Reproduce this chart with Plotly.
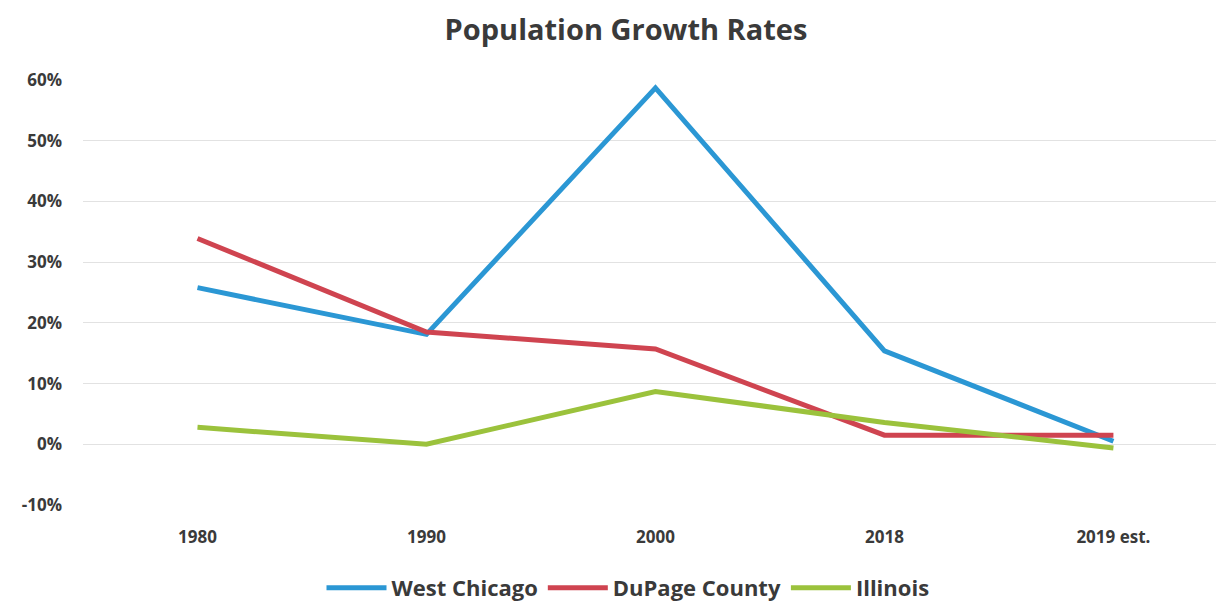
import plotly.graph_objects as go

# Census periods and growth rate per period (percent)
years = ["1980", "1990", "2000", "2018", "2019 est."]
west_chicago = [25.8, 18.1, 58.7, 15.4, 0.5]
dupage_county = [33.9, 18.5, 15.7, 1.5, 1.5]
illinois = [2.8, 0.0, 8.7, 3.6, -0.6]

y_ticks = [-10, 0, 10, 20, 30, 40, 50, 60]
y_tick_labels = [f"{v}%" for v in y_ticks]

series = [
    ("West Chicago", west_chicago, "#2b97d4"),
    ("DuPage County", dupage_county, "#cf4450"),
    ("Illinois", illinois, "#9bc23c"),
]

FONT = "Open Sans"
TEXT = "#3a3a3a"

fig = go.Figure()
for name, vals, color in series:
    fig.add_trace(go.Scatter(
        x=years, y=vals, name=name, mode="lines",
        line=dict(color=color, width=5),
    ))

fig.update_layout(
    width=1216, height=606,
    paper_bgcolor="white", plot_bgcolor="white",
    margin=dict(l=83, r=0, t=80, b=101),
    title=dict(
        text="<b>Population Growth Rates</b>",
        x=626 / 1216, xref="container", xanchor="center",
        y=1 - 30 / 606, yref="container", yanchor="middle",
        font=dict(family=FONT, size=29, color=TEXT),
    ),
    xaxis=dict(
        type="category", range=[-0.5, 4.448],
        showgrid=False, zeroline=False, showline=False,
        ticks="", ticklabelstandoff=20,
        tickfont=dict(family=FONT, size=17, color=TEXT, weight="bold"),
    ),
    yaxis=dict(
        range=[-10, 60], tickvals=y_ticks, ticktext=y_tick_labels,
        showgrid=True, gridcolor="#e2e2e2", gridwidth=1,
        zeroline=False, showline=False, ticks="",
        ticklabelstandoff=20,
        tickfont=dict(family=FONT, size=17, color=TEXT, weight="bold"),
    ),
    legend=dict(
        orientation="h", xref="container", yref="container",
        x=628 / 1216, xanchor="center", y=(606 - 588) / 606, yanchor="middle",
        font=dict(family=FONT, size=22, color=TEXT, weight="bold"),
        itemwidth=60, traceorder="normal",
    ),
    showlegend=True,
)

fig.write_html("out.html")
